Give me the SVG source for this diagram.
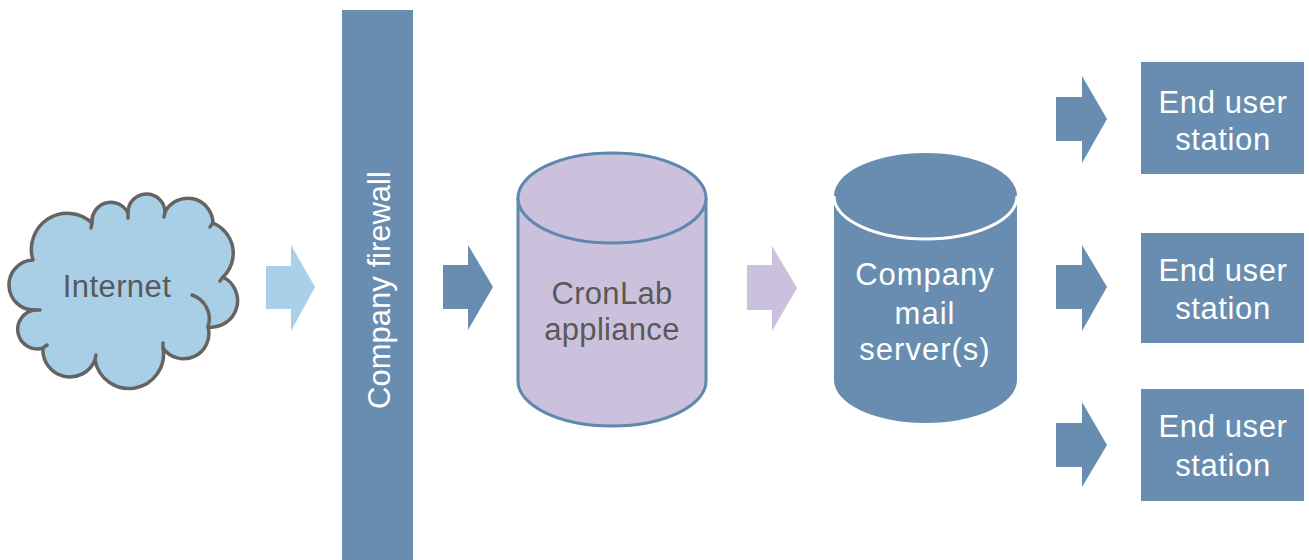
<svg xmlns="http://www.w3.org/2000/svg" width="1309" height="560" viewBox="0 0 1309 560">
<style>
  .lbl { font-family: "Liberation Sans", Arial, sans-serif; font-size: 31px; text-anchor: middle; }
  .white { fill: #ffffff; }
  .grey { fill: #595959; }
  .dark { fill: #688db0; }
  .light { fill: #a9d0e8; }
  .purple { fill: #cbc1dc; }
  .cloudline { fill: none; stroke: #666462; stroke-width: 3.5; stroke-linecap: round; }
</style>
<rect width="1309" height="560" fill="#ffffff"/>

<g id="internet">
  <path d="M33,260 A36,36 0 0 1 92,223 A19,19 0 0 1 128,213 A18.5,18.5 0 0 1 165,212 A25.4,25.4 0 0 1 213,223 A32.7,32.7 0 0 1 223,277 A26.5,26.5 0 0 1 208,327 A25.2,25.2 0 0 1 163,348 A34.5,34.5 0 0 1 95,360 A27,27 0 0 1 43,348 A19.5,19.5 0 1 1 35,310 A25,25 0 0 1 33,260 Z" fill="#a9cfe6" stroke="#666462" stroke-width="3.5" stroke-linejoin="round"/>
  <path class="cloudline" d="M192,295 A25.2,25.2 0 0 1 208,327"/>
  <path class="cloudline" d="M92,223 L91,228 M128,213 L128,218 M165,212 L164,217 M213,223 L210,227 M223,277 L220,281 M163,348 L163,343 M95,360 L96,355 M43,348 L47,345 M35,310 L40,310"/>
  <text class="lbl grey" x="117" y="297" font-size="30" letter-spacing="0.4">Internet</text>
</g>

<g id="firewall">
  <rect x="342" y="10" width="71" height="550" class="dark"/>
  <text class="lbl white" transform="translate(390,290) rotate(-90)" x="0" y="0">Company firewall</text>
</g>

<g id="cronlab">
  <path d="M518,198 L518,381 A94,45 0 0 0 706,381 L706,198" fill="#cbc1dc" stroke="#5f88ae" stroke-width="3"/>
  <ellipse cx="612" cy="198" rx="94" ry="45" fill="#cbc1dc" stroke="#5f88ae" stroke-width="3"/>
  <text class="lbl grey" x="612" y="304" letter-spacing="0.3">CronLab</text>
  <text class="lbl grey" x="612" y="340" letter-spacing="0.3">appliance</text>
</g>

<g id="mailserver">
  <path d="M834,196 L834,380 A91.5,43 0 0 0 1017,380 L1017,196 A91.5,43 0 0 0 834,196 Z" class="dark"/>
  <path d="M834,196 A91.5,43 0 0 0 1017,196" fill="none" stroke="#ffffff" stroke-width="3"/>
  <text class="lbl white" x="925" y="285" letter-spacing="1">Company</text>
  <text class="lbl white" x="925" y="324" letter-spacing="1">mail</text>
  <text class="lbl white" x="925" y="360" letter-spacing="1">server(s)</text>
</g>

<g id="station1">
  <rect x="1141" y="62" width="163" height="112" class="dark"/>
  <text class="lbl white" x="1223" y="113" letter-spacing="0.6">End user</text>
  <text class="lbl white" x="1223" y="150" letter-spacing="0.6">station</text>
</g>
<g id="station2">
  <rect x="1141" y="233" width="163" height="110" class="dark"/>
  <text class="lbl white" x="1223" y="281" letter-spacing="0.6">End user</text>
  <text class="lbl white" x="1223" y="319" letter-spacing="0.6">station</text>
</g>
<g id="station3">
  <rect x="1141" y="389" width="163" height="112" class="dark"/>
  <text class="lbl white" x="1223" y="437" letter-spacing="0.6">End user</text>
  <text class="lbl white" x="1223" y="476" letter-spacing="0.6">station</text>
</g>

<g id="connectors">
  <polygon class="light" points="266,266 291,266 291,245 315,287 291,331 291,309 266,309"/>
  <polygon class="dark" points="443,265 468,265 468,245 493,287 468,330 468,309 443,309"/>
  <polygon class="purple" points="747,265 772,265 772,246 797,288 772,331 772,310 747,310"/>
  <polygon class="dark" points="1056,97 1082,97 1082,76 1107,119 1082,163 1082,141 1056,141"/>
  <polygon class="dark" points="1056,265 1082,265 1082,245 1107,287 1082,331 1082,309 1056,309"/>
  <polygon class="dark" points="1056,423 1082,423 1082,402 1107,445 1082,487 1082,467 1056,467"/>
</g>
</svg>
